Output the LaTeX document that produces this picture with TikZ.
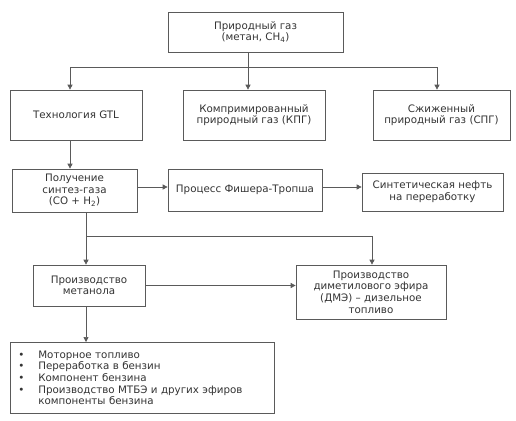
\documentclass[tikz,border=0pt]{standalone}
\usepackage{fontspec}
\setmainfont{DejaVu Sans}
\usetikzlibrary{arrows.meta}
\definecolor{ln}{HTML}{5A5A5A}
\definecolor{tx}{HTML}{333333}
\begin{document}
\begin{tikzpicture}[x=1pt,y=-1pt,
  box/.style={draw=ln,line width=0.7pt,rectangle,inner sep=2pt,align=center,
    font=\fontsize{10.3}{11.6}\selectfont,text=tx},
  conn/.style={draw=ln,line width=0.7pt},
  arr/.style={conn,-{Triangle[length=5pt,width=5pt]}}]
\useasboundingbox[fill=white] (0,0) rectangle (516,420);
\node[box,minimum width=175pt,minimum height=40pt] (top) at (255.5,32) {Природный газ\\(метан, CH\textsubscript{4})};
\node[box,minimum width=132pt,minimum height=50pt] (gtl) at (76,115) {Технология GTL};
\node[box,minimum width=142pt,minimum height=50pt] (kpg) at (254,115) {Компримированный\\природный газ (КПГ)};
\node[box,minimum width=137pt,minimum height=50pt] (spg) at (441.5,115) {Сжиженный\\природный газ (СПГ)};
\node[box,minimum width=125pt,minimum height=43pt] (syn) at (74.5,190.5) {Получение\\синтез-газа\\(CO + H\textsubscript{2})};
\node[box,minimum width=154pt,minimum height=42pt] (ft) at (245,190) {Процесс Фишера-Тропша};
\node[box,minimum width=141pt,minimum height=38pt] (oil) at (432.5,192) {Синтетическая нефть\\на переработку};
\node[box,minimum width=112pt,minimum height=41pt] (meth) at (89,285.5) {Производство\\метанола};
\node[box,minimum width=150pt,minimum height=54pt] (dme) at (371,292) {Производство\\диметилового эфира\\(ДМЭ) – дизельное\\топливо};
\node[box,minimum width=264pt,minimum height=71pt,align=left,text width=258pt,inner sep=3pt,anchor=north west] (use) at (10,342) {%
\makebox[25pt][l]{\hspace{5pt}\textbullet}Моторное топливо\\
\makebox[25pt][l]{\hspace{5pt}\textbullet}Переработка в бензин\\
\makebox[25pt][l]{\hspace{5pt}\textbullet}Компонент бензина\\
\makebox[25pt][l]{\hspace{5pt}\textbullet}Производство МТБЭ и других эфиров\\
\makebox[25pt][l]{}компоненты бензина};
% top distribution
\coordinate (t0) at (248,67);
\draw[conn] (top.south -| t0) -- (t0);
\draw[conn] (70,67) coordinate (tl) -- (437,67) coordinate (tr);
\draw[arr] (tl) -- (tl |- gtl.north);
\draw[arr] (t0) -- (t0 |- kpg.north);
\draw[arr] (tr) -- (tr |- spg.north);
\coordinate (g0) at (70,140);
\draw[arr] (gtl.south -| g0) -- (g0 |- syn.north);
\coordinate (h) at (0,187);
\draw[arr] (syn.east |- h) -- (ft.west |- h);
\draw[arr] (ft.east |- h) -- (oil.west |- h);
\coordinate (b0) at (86,236);
\coordinate (b1) at (372,236);
\draw[conn] (syn.south -| b0) -- (b0) -- (b1);
\draw[arr] (b0) -- (b0 |- meth.north);
\draw[arr] (b1) -- (b1 |- dme.north);
\draw[arr] (meth.east) -- (meth.east -| dme.west);
\draw[arr] (meth.south -| b0) -- (b0 |- use.north);
\end{tikzpicture}
\end{document}
